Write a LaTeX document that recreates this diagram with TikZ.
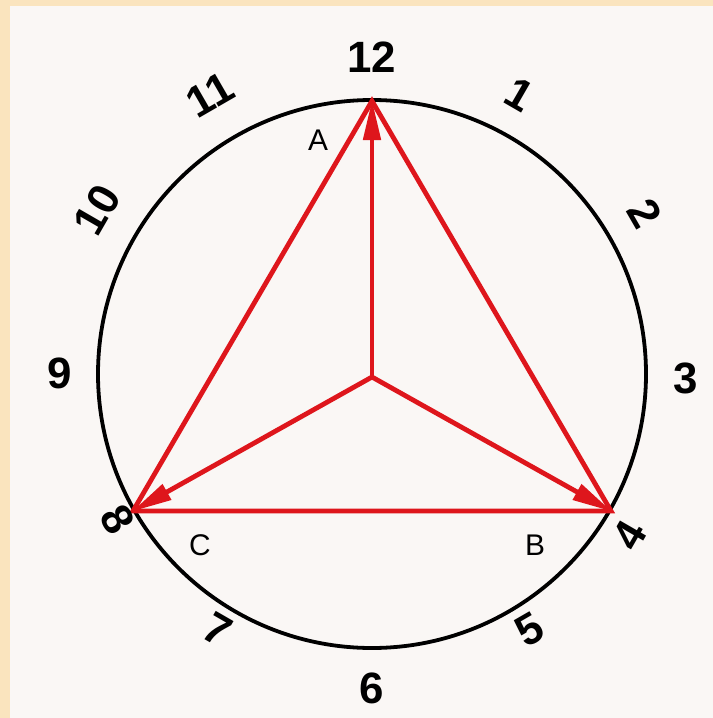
\documentclass[tikz,border=0pt]{standalone}
\usepackage{fontspec}
\setmainfont{Liberation Sans}
\usetikzlibrary{arrows.meta}
\definecolor{bgbeige}{RGB}{250,228,190}
\definecolor{inner}{RGB}{250,247,245}
\definecolor{vecred}{RGB}{222,22,28}
\tikzset{
  hour/.style={font=\bfseries\fontsize{44}{44}\selectfont, inner sep=0pt},
  vlabel/.style={font=\fontsize{30}{30}\selectfont, inner sep=0pt},
  vec/.style={vecred, line width=4.8bp, -{Triangle[length=40bp,width=17bp]}, shorten >=-1bp},
  side/.style={vecred, line width=4.8bp, line cap=round},
  rim/.style={black, line width=3.8bp}
}
\begin{document}
\begin{tikzpicture}[x=1bp,y=-1bp]
\useasboundingbox (0,0) rectangle (713,718);
\fill[bgbeige] (0,0) rectangle (713,718);
\fill[inner] (10,6) rectangle (713,718);
\coordinate (O) at (372,377);
\coordinate (ctr) at (372,374);
\draw[rim] (ctr) circle[radius=274];
\coordinate (A) at (372,101);
\coordinate (B) at (611,511);
\coordinate (C) at (133,511);
\draw[side] (A) -- (B) -- (C) -- cycle;
\draw[vec] (O) -- (A);
\draw[vec] (O) -- (B);
\draw[vec] (O) -- (C);
\node[vlabel] (lA) at (318,140) {A};
\node[vlabel] (lB) at (535,545) {B};
\node[vlabel] (lC) at (200,545) {C};
\node[hour] (h12) at (372,57) {12};
\node[hour, rotate=-30] (h1) at (520,95) {1};
\node[hour, rotate=-60] (h2) at (645,213) {2};
\node[hour] (h3) at (686,378) {3};
\node[hour, rotate=60] (h4) at (630,535) {4};
\node[hour, rotate=30] (h5) at (530,630) {5};
\node[hour] (h6) at (372,688) {6};
\node[hour, rotate=-30] (h7) at (218,630) {7};
\node[hour, rotate=-60] (h8) at (118,520) {8};
\node[hour] (h9) at (60,373) {9};
\node[hour, rotate=60] (h10) at (97,210) {10};
\node[hour, rotate=30] (h11) at (210,95) {11};
\end{tikzpicture}
\end{document}
